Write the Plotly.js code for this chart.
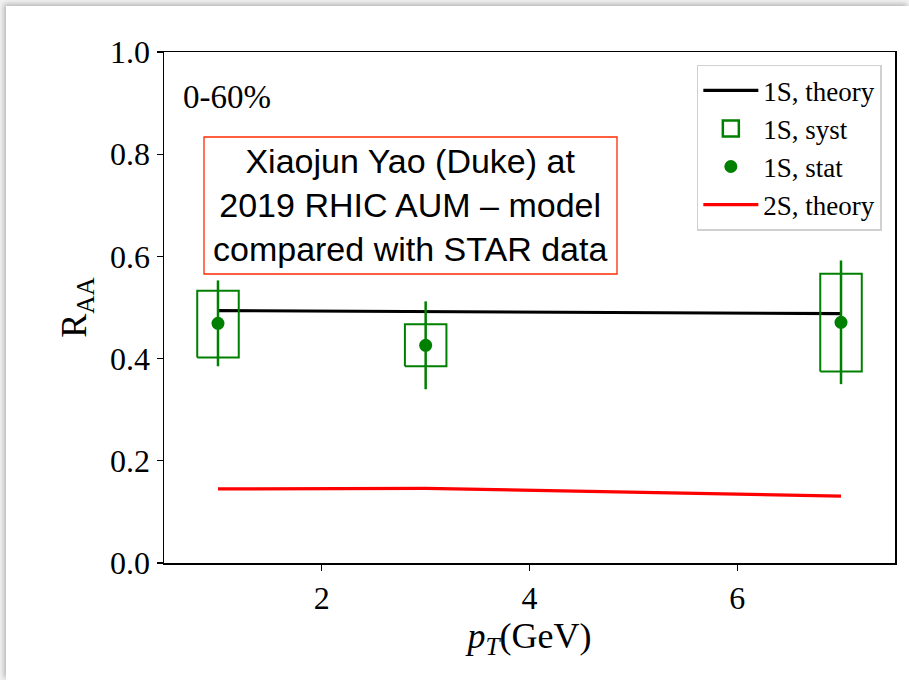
<!DOCTYPE html>
<html><head><meta charset="utf-8">
<script src="https://cdn.plot.ly/plotly-3.0.1.min.js"></script>
<style>
html,body{margin:0;padding:0;background:#f2f2f2;}
#card{position:absolute;left:6px;top:6px;width:903px;height:674px;background:#fff;box-shadow:-2px -2px 5px rgba(0,0,0,0.25);}
#plot{position:absolute;left:0;top:0;width:909px;height:680px;}
</style></head>
<body>
<div id="card"></div>
<div id="plot"></div>
<script>
// data
const ptTheory = [1, 3, 7];
const raa1S_theory = [0.494, 0.492, 0.488];
const raa2S_theory = [0.145, 0.146, 0.131];
const ptData = [1, 3, 7];
const raa1S = [0.469, 0.426, 0.471];
const stat1S = [0.084, 0.086, 0.121];
const systLo = [0.402, 0.385, 0.375];
const systHi = [0.533, 0.467, 0.566];
const boxHalf = 0.2;

// syst boxes as closed polygons
const bx = [], by = [];
ptData.forEach((x, i) => {
  bx.push(x - boxHalf, x + boxHalf, x + boxHalf, x - boxHalf, x - boxHalf, null);
  by.push(systLo[i], systLo[i], systHi[i], systHi[i], systLo[i], null);
});

const serif = "Liberation Serif";
const sans = "Liberation Sans";
const green = '#008000';

const traces = [
  {x: ptTheory, y: raa1S_theory, mode: 'lines', name: '1S, theory',
   line: {color: '#000', width: 3.2}},
  {x: bx, y: by, mode: 'lines', name: '1S, syst', showlegend: false,
   line: {color: green, width: 2}},
  {x: [null], y: [null], mode: 'markers', name: '1S, syst',
   marker: {symbol: 'square-open', color: green, size: 16, line: {width: 2.5}}},
  {x: ptData, y: raa1S, mode: 'markers', name: '1S, stat',
   marker: {color: green, size: 13},
   error_y: {type: 'data', array: stat1S, visible: true, color: green, thickness: 2.5, width: 0}},
  {x: ptTheory, y: raa2S_theory, mode: 'lines', name: '2S, theory',
   line: {color: '#ff0000', width: 3.2}}
];

const layout = {
  width: 909, height: 680,
  paper_bgcolor: 'rgba(0,0,0,0)', plot_bgcolor: '#fff',
  margin: {l: 164, r: 14, t: 52, b: 117},
  showlegend: true,
  font: {family: serif, color: '#000'},
  title: {text: '0-60%', font: {family: serif, size: 33, color: '#000'},
          x: 183/909, xref: 'container', xanchor: 'left',
          y: 1 - 96/680, yref: 'container', yanchor: 'middle'},
  xaxis: {
    range: [0.48, 7.52], tickvals: [2, 4, 6], ticktext: ['2', '4', '6'],
    ticks: 'outside', ticklen: 6, tickwidth: 1.2, tickcolor: '#000',
    showline: true, linecolor: '#000', linewidth: 1.5, mirror: true,
    showgrid: false, zeroline: false,
    tickfont: {family: serif, size: 32},
    title: {text: '<i>p</i><sub><i>T</i></sub>(GeV)', font: {family: serif, size: 36}, standoff: 4}
  },
  yaxis: {
    range: [0, 1], tickvals: [0, 0.2, 0.4, 0.6, 0.8, 1.0], tickformat: '.1f',
    ticks: 'outside', ticklen: 6, tickwidth: 1.2, tickcolor: '#000',
    showline: true, linecolor: '#000', linewidth: 1.5, mirror: true,
    showgrid: false, zeroline: false,
    tickfont: {family: serif, size: 32},
    title: {text: 'R<sub>AA</sub>', font: {family: serif, size: 36}, standoff: 12}
  },
  legend: {
    x: 0.982, xanchor: 'right', y: 0.975, yanchor: 'top',
    bgcolor: '#fff', bordercolor: '#d0d0d0', borderwidth: 1.5,
    font: {family: serif, size: 27}, itemwidth: 55, tracegroupgap: 0
  },
  shapes: [
    {type: 'rect', xref: 'paper', yref: 'paper', layer: 'above',
     x0: (204 - 164) / 731, x1: (617 - 164) / 731,
     y0: (563 - 274) / 511, y1: (563 - 137) / 511,
     line: {color: '#ff2a00', width: 1.3}, fillcolor: 'rgba(0,0,0,0)'}
  ],
  annotations: [
    {xref: 'paper', yref: 'paper', x: 0.337, y: 0.70, xanchor: 'center', yanchor: 'middle',
     text: 'Xiaojun Yao (Duke) at<br>2019 RHIC AUM – model<br>compared with STAR data',
     showarrow: false, align: 'center',
     font: {family: sans, size: 34, color: '#000'}}
  ]
};

Plotly.newPlot('plot', traces, layout, {displayModeBar: false, staticPlot: true});
</script>
</body></html>
